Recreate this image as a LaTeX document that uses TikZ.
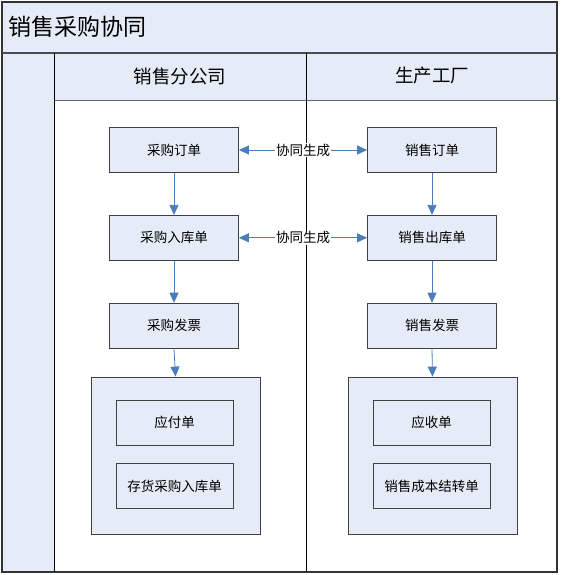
\documentclass[tikz,border=0pt]{standalone}
\usepackage{fontspec}
\setmainfont{Noto Sans CJK SC}
\usetikzlibrary{arrows.meta, positioning}
\definecolor{lanefill}{HTML}{E6ECF7}
\definecolor{flowblue}{HTML}{4A7EBB}

\begin{document}
\begin{tikzpicture}[
  x=1pt, y=-1pt,
  node distance=42pt,
  doc/.style={rectangle, draw=black!75, thick, fill=lanefill, minimum width=129pt, minimum height=45pt, inner sep=0pt, font=\fontsize{13.5}{15}\selectfont},
  subdoc/.style={rectangle, draw=black!75, thick, minimum width=117pt, minimum height=45pt, inner sep=0pt, font=\fontsize{13.5}{15}\selectfont},
  group/.style={rectangle, draw=black!75, thick, fill=lanefill, minimum width=169pt, minimum height=157pt},
  lanehead/.style={font=\fontsize{18.5}{20}\selectfont},
  flow/.style={-{Triangle[length=10pt, width=9pt]}, thick, flowblue},
  sync/.style={{Triangle[length=10pt, width=9pt]}-{Triangle[length=10pt, width=9pt]}, thick, flowblue},
  synclabel/.style={fill=white, inner sep=1pt, text=black, font=\fontsize{13.5}{15}\selectfont}
]
  \useasboundingbox (0,0) rectangle (560,575);

  % Pool frame
  \fill[lanefill] (2,2) rectangle (557,53);
  \fill[lanefill] (2,53) rectangle (54,572);
  \fill[lanefill] (54,53) rectangle (557,100);
  \draw[black!80, line width=1.5pt] (2,2) rectangle (557,572);
  \draw[black!70, line width=1.8pt] (2,53) -- (557,53);
  \draw[black!60, thick] (54,100) -- (557,100);
  \draw[black, thick] (54,53) -- (54,572);
  \draw[black] (306,53) -- (306,572);

  \node[anchor=west, font=\fontsize{23}{25}\selectfont] (title) at (5,27) {销售采购协同};
  \node[lanehead] (branch) at (180,76) {销售分公司};
  \node[lanehead] (factory) at (432,76) {生产工厂};

  % Left lane
  \node[doc] (ppo) at (174,150) {采购订单};
  \node[doc, below=of ppo] (ppi) {采购入库单};
  \node[doc, below=of ppi] (pin) {采购发票};
  \node[group] (pgrp) at (175.5,455.5) {};
  \node[subdoc] (ap) at (174.5,422.5) {应付单};
  \node[subdoc, below=18pt of ap] (stk) {存货采购入库单};

  % Right lane
  \node[doc] (spo) at (432,150) {销售订单};
  \node[doc, below=of spo] (sdo) {销售出库单};
  \node[doc, below=of sdo] (sin) {销售发票};
  \node[group] (sgrp) at (432.5,455.5) {};
  \node[subdoc] (ar) at (431.5,422.5) {应收单};
  \node[subdoc, below=18pt of ar] (cost) {销售成本结转单};

  % Flows
  \draw[flow] (ppo) -- (ppi);
  \draw[flow] (ppi) -- (pin);
  \draw[flow] (pin.south) -- (pgrp.north);
  \draw[flow] (spo) -- (sdo);
  \draw[flow] (sdo) -- (sin);
  \draw[flow] (sin.south) -- (sgrp.north);

  \draw[sync] (ppo) -- node[synclabel] {协同生成} (spo);
  \draw[sync] (ppi) -- node[synclabel] {协同生成} (sdo);
\end{tikzpicture}
\end{document}
